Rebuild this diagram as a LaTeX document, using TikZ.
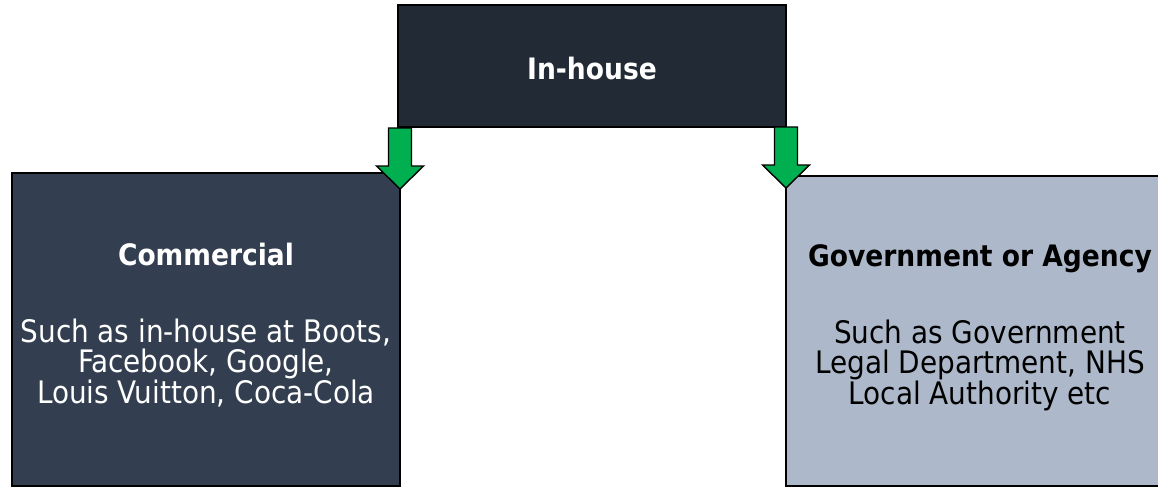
\documentclass[tikz,border=0pt]{standalone}
\usepackage{fontspec}
\setmainfont{DejaVu Sans Condensed}
\definecolor{darkbox}{HTML}{222A35}
\definecolor{slatebox}{HTML}{333F50}
\definecolor{paleslate}{HTML}{ADB9CA}
\definecolor{arrowgreen}{HTML}{00B050}

\begin{document}
\begin{tikzpicture}[x=1pt,y=-1pt,
  box/.style={draw=black, line width=2pt, inner sep=0pt},
  title/.style={font=\fontsize{29.5}{30}\selectfont\bfseries, anchor=base},
  body/.style={font=\fontsize{31}{30}\selectfont, align=center, anchor=base},
  blockarrow/.style={draw=black, line width=1.4pt, fill=arrowgreen, line join=miter}]
  \useasboundingbox (0,0) rectangle (1158,487);
  \clip (0,0) rectangle (1158,487);
  % boxes
  \node[box, fill=darkbox, minimum width=388, minimum height=122] (inhouse) at (592,66) {};
  \node[box, fill=slatebox, minimum width=388, minimum height=313] (commercial) at (206,329.5) {};
  \node[box, fill=paleslate, minimum width=390, minimum height=310] (govt) at (981,331) {};
  % texts (base of a multi-line node is its last line)
  \node[title, text=white] (inhousetitle) at (592,79) {In-house};
  \node[title, text=white] (commtitle) at (206,265) {Commercial};
  \node[body, text=white] (commtext) at (206,403) {Such as in-house at Boots,\\Facebook, Google,\\Louis Vuitton, Coca-Cola};
  \node[title, text=black] (govttitle) at (980,266) {Government or Agency};
  \node[body, text=black] (govttext) at (980,404) {Such as Government\\Legal Department, NHS\\Local Authority etc};
  % green arrows
  \coordinate (tipleft) at (400,189);
  \coordinate (tipright) at (786,188);
  \draw[blockarrow, shift={(tipleft)}] (-11.5,-61) -- (11.5,-61) -- (11.5,-23) -- (23.5,-23)
    -- (0,0) -- (-23.5,-23) -- (-11.5,-23) -- cycle;
  \draw[blockarrow, shift={(tipright)}] (-11.5,-61) -- (11.5,-61) -- (11.5,-23) -- (23.5,-23)
    -- (0,0) -- (-23.5,-23) -- (-11.5,-23) -- cycle;
\end{tikzpicture}
\end{document}
